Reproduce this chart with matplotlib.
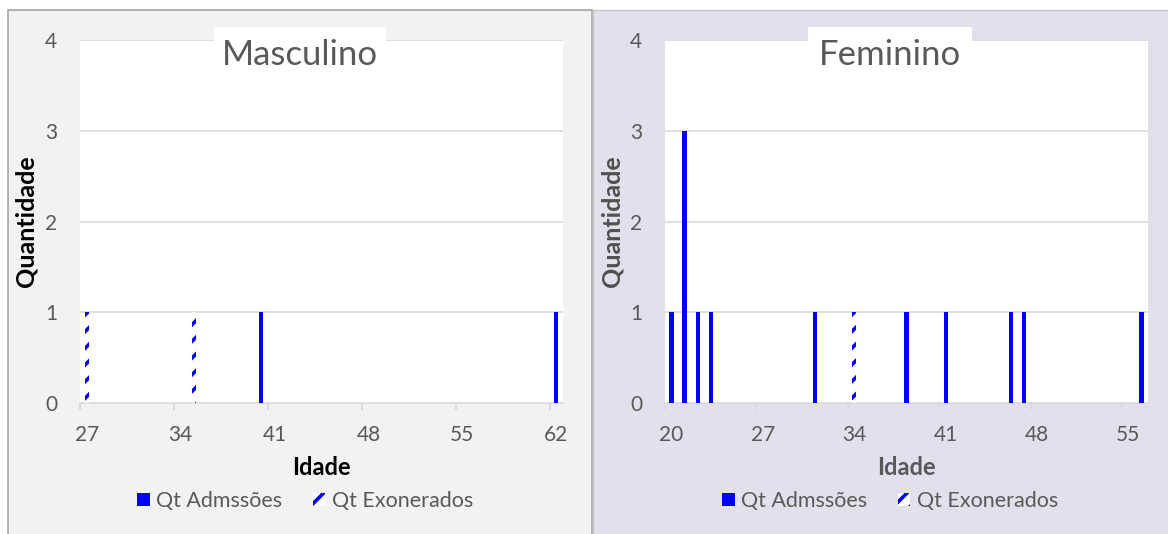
import matplotlib
matplotlib.use("Agg")
import matplotlib.pyplot as plt
from matplotlib.patches import Rectangle
import numpy as np

plt.rcParams['font.family'] = ['Lato', 'DejaVu Sans']
plt.rcParams['hatch.linewidth'] = 2.6

# ---- data ----
male_ages_adm = [40, 62]
male_qt_adm = [1, 1]
male_ages_exo = [27, 35]
male_qt_exo = [1, 1]
male_range = (27, 62)
male_ticks = [27, 34, 41, 48, 55, 62]

fem_ages_adm = [20, 21, 22, 23, 31, 38, 41, 46, 47, 56]
fem_qt_adm = [1, 3, 1, 1, 1, 1, 1, 1, 1, 1]
fem_ages_exo = [34]
fem_qt_exo = [1]
fem_range = (20, 56)
fem_ticks = [20, 27, 34, 41, 48, 55]

y_ticks = [0, 1, 2, 3, 4]
titles = ["Masculino", "Feminino"]
series_names = ["Qt Admssões", "Qt Exonerados"]

W, H = 1168, 534
fig = plt.figure(figsize=(W / 100, H / 100), dpi=100)
fig.patch.set_facecolor('white')

def fx(px):
    return px / W

def fy(py):
    return 1 - py / H

# panel backgrounds
fig.add_artist(Rectangle((fx(8), fy(540)), fx(583.5), fy(10) - fy(540), transform=fig.transFigure,
                         facecolor='#F2F2F2', edgecolor='#A6A6A6', lw=1.2, zorder=0))
fig.add_artist(Rectangle((fx(593), fy(540)), fx(580), fy(10) - fy(540), transform=fig.transFigure,
                         facecolor='#E4DFEC', edgecolor='#C8C8C8', lw=1.0, zorder=0))

BLUE = '#0000FF'
GRID = '#D9D9D9'
TXT = '#595959'

panels = [
    dict(left=80, right=563, ages_adm=male_ages_adm, qt_adm=male_qt_adm, ages_exo=male_ages_exo,
         qt_exo=male_qt_exo, rng=male_range, ticks=male_ticks, title=titles[0],
         box=(214, 386), ylab_col='black', xlab_col='black', ylab_x=37, legx=305),
    dict(left=665, right=1148, ages_adm=fem_ages_adm, qt_adm=fem_qt_adm, ages_exo=fem_ages_exo,
         qt_exo=fem_qt_exo, rng=fem_range, ticks=fem_ticks, title=titles[1],
         box=(808, 972), ylab_col='#505050', xlab_col=TXT, ylab_x=623, legx=890),
]

for p in panels:
    ax = fig.add_axes([fx(p['left']), fy(403), fx(p['right'] - p['left']), fy(40) - fy(403)])
    ax.set_facecolor('white')
    ax.set_xlim(p['rng'][0] - 0.5, p['rng'][1] + 0.5)
    ax.set_ylim(0, 4)
    b1 = ax.bar(p['ages_adm'], p['qt_adm'], width=0.32, color=BLUE, zorder=3, label=series_names[0])
    b2 = ax.bar(p['ages_exo'], p['qt_exo'], width=0.32, facecolor='white', edgecolor=BLUE,
                hatch='//', lw=0, zorder=3, label=series_names[1])
    for y in y_ticks[1:]:
        ax.axhline(y, color=GRID, lw=1.2, zorder=1)
    for s in ['top', 'right', 'left']:
        ax.spines[s].set_visible(False)
    ax.spines['bottom'].set_color(GRID)
    ax.spines['bottom'].set_linewidth(1.2)
    ax.set_yticks(y_ticks)
    ax.tick_params(axis='y', length=0, pad=16.5, labelsize=15, labelcolor=TXT)
    ax.set_xticks(p['ticks'])
    ax.tick_params(axis='x', which='major', length=0, pad=16, labelsize=15, labelcolor=TXT)
    ax.set_xticks([t - 0.5 for t in p['ticks']], minor=True)
    ax.tick_params(axis='x', which='minor', length=5, width=1.2, color=GRID)
    ax.set_xlabel("Idade", fontsize=17, fontweight='bold', color=p['xlab_col'], labelpad=8)
    ax.set_ylabel("Quantidade", fontsize=18, fontweight='bold', color=p['ylab_col'])
    ax.yaxis.set_label_coords((p['ylab_x'] - p['left']) / (p['right'] - p['left']), 0.5)
    # title box
    x0, x1 = p['box']
    fig.add_artist(Rectangle((fx(x0), fy(75)), fx(x1 - x0), fy(27) - fy(75), transform=fig.transFigure,
                             facecolor='white', edgecolor='none', zorder=5))
    fig.text(fx((x0 + x1) / 2), fy(55), p['title'], ha='center', va='center', fontsize=25,
             color=TXT, zorder=6)
    ax.legend(handles=[b1, b2], loc='center', bbox_to_anchor=(fx(p['legx']), fy(501)),
              bbox_transform=fig.transFigure, ncol=2, frameon=False, fontsize=15.5,
              handlelength=0.6, handleheight=0.6, handletextpad=0.3, columnspacing=1.4,
              labelcolor=TXT)

fig.savefig("out.png", dpi=100)
